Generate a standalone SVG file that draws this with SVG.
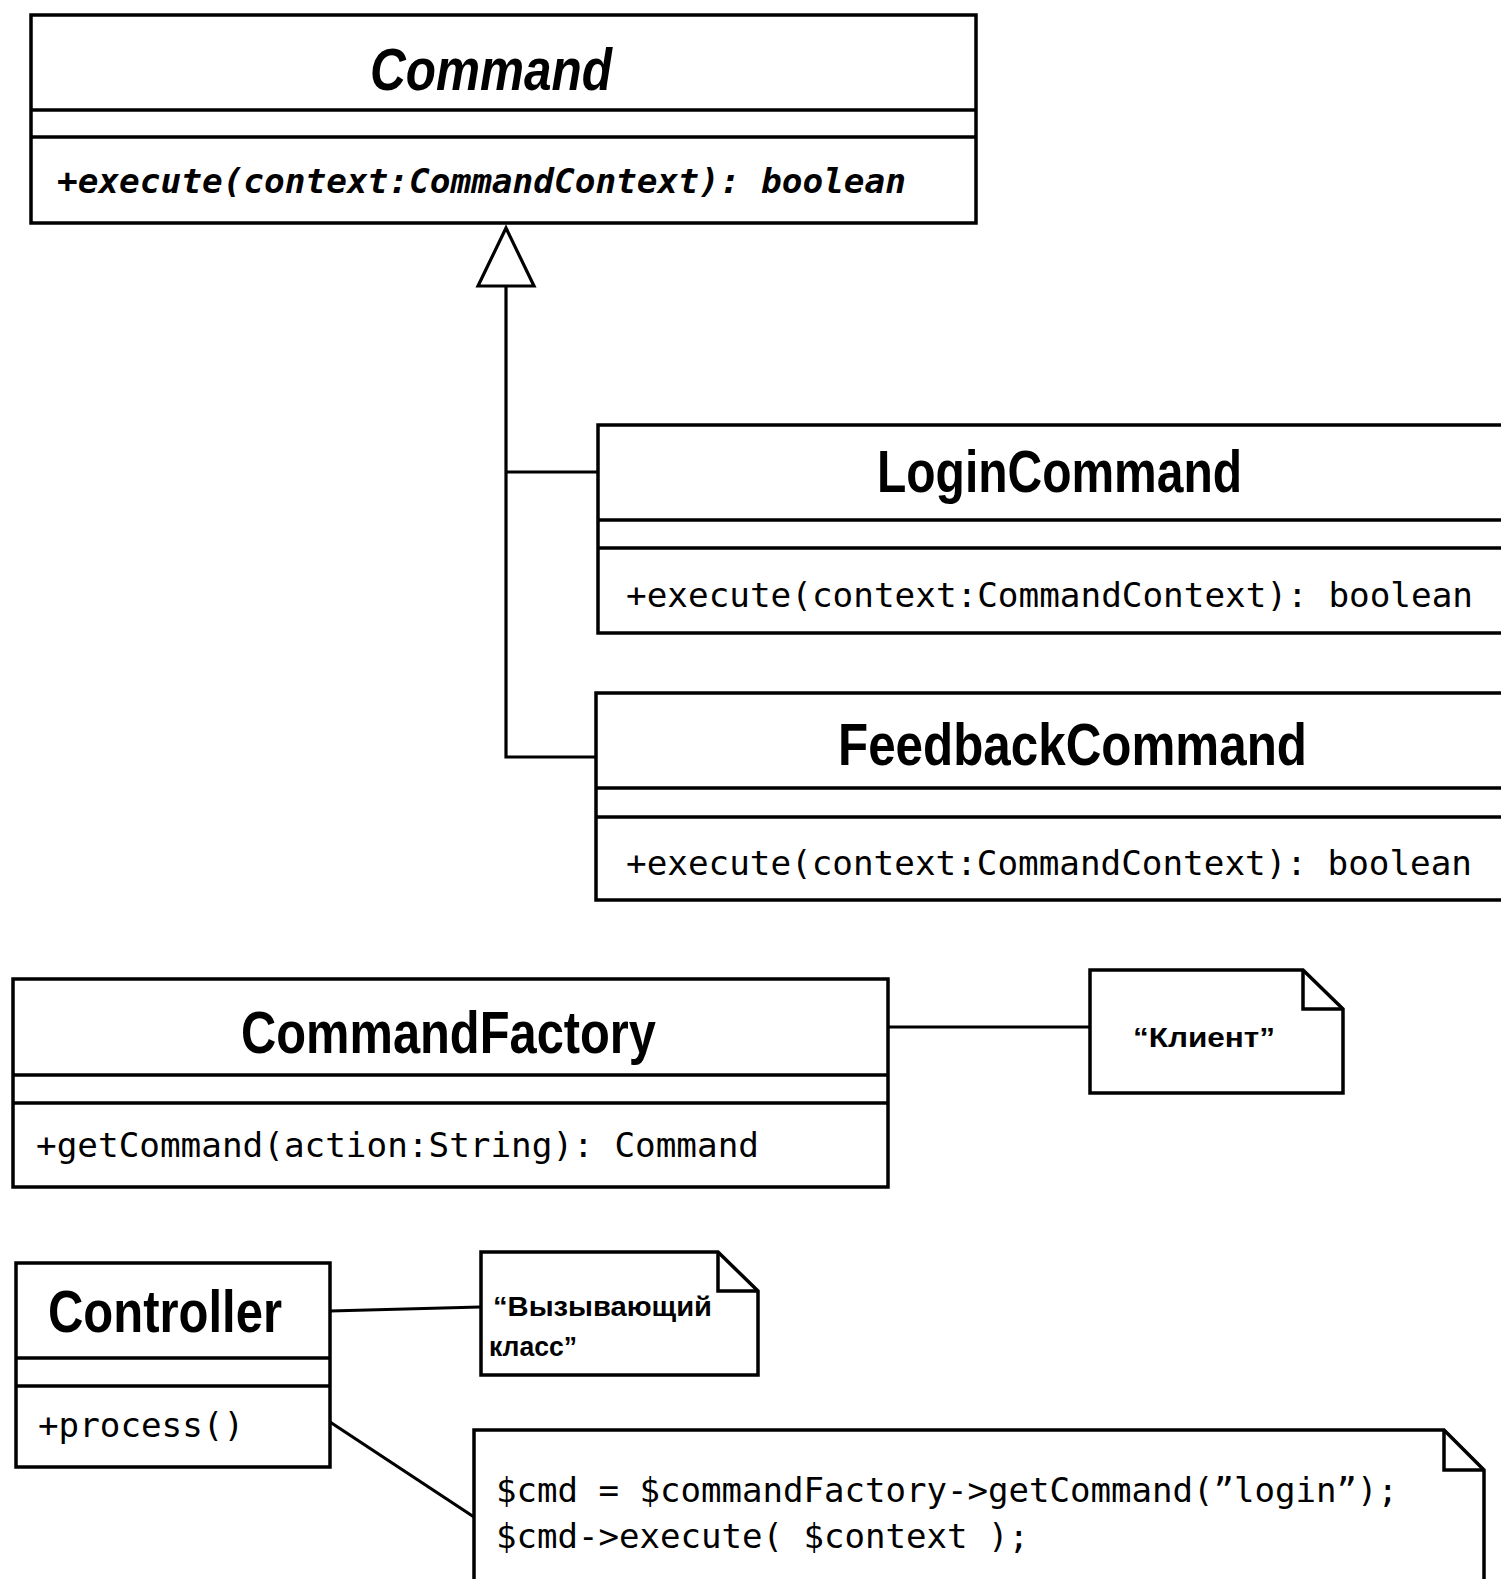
<svg xmlns="http://www.w3.org/2000/svg" width="1501" height="1579" viewBox="0 0 1501 1579">
<style>
.box{fill:#fff;stroke:#000;stroke-width:3.5}
.sep{stroke:#000;stroke-width:3.5;fill:none}
.conn{stroke:#000;stroke-width:3.2;fill:none}
.title{font-family:"Liberation Sans",Arial,sans-serif;font-weight:bold;font-size:60px;fill:#000}
.method{font-family:"DejaVu Sans Mono","Liberation Mono",monospace;font-size:34px;fill:#000}
.note{font-family:"Liberation Sans",Arial,sans-serif;font-weight:bold;font-size:27px;fill:#000}
</style>
<rect width="1501" height="1579" fill="#fff"/>
<g id="connectors">
<polyline class="conn" points="506,286 506,757 596,757"/>
<line class="conn" x1="506" y1="472" x2="597" y2="472"/>
<polygon points="506,228 478,286 534,286" fill="#fff" stroke="#000" stroke-width="3.2"/>
<line class="conn" x1="888" y1="1027" x2="1089" y2="1027"/>
<line class="conn" x1="330" y1="1311" x2="480" y2="1307"/>
<line class="conn" x1="330" y1="1422" x2="474" y2="1517"/>
</g>
<g id="Command">
<rect class="box" x="31" y="15" width="945" height="208"/>
<line class="sep" x1="31" y1="110" x2="976" y2="110"/>
<line class="sep" x1="31" y1="137" x2="976" y2="137"/>
<text class="title" font-style="italic" x="370" y="90" textLength="242" lengthAdjust="spacingAndGlyphs">Command</text>
<text class="method" font-weight="bold" font-style="italic" x="57" y="193" textLength="849" lengthAdjust="spacingAndGlyphs">+execute(context:CommandContext): boolean</text>
</g>
<g id="LoginCommand">
<rect class="box" x="598" y="425" width="920" height="208"/>
<line class="sep" x1="598" y1="520" x2="1518" y2="520"/>
<line class="sep" x1="598" y1="548" x2="1518" y2="548"/>
<text class="title" x="877" y="492" textLength="365" lengthAdjust="spacingAndGlyphs">LoginCommand</text>
<text class="method" x="626" y="607" textLength="847" lengthAdjust="spacingAndGlyphs">+execute(context:CommandContext): boolean</text>
</g>
<g id="FeedbackCommand">
<rect class="box" x="596" y="693" width="920" height="207"/>
<line class="sep" x1="596" y1="788" x2="1516" y2="788"/>
<line class="sep" x1="596" y1="817" x2="1516" y2="817"/>
<text class="title" x="838" y="765" textLength="469" lengthAdjust="spacingAndGlyphs">FeedbackCommand</text>
<text class="method" x="626" y="875" textLength="846" lengthAdjust="spacingAndGlyphs">+execute(context:CommandContext): boolean</text>
</g>
<g id="CommandFactory">
<rect class="box" x="13" y="979" width="875" height="208"/>
<line class="sep" x1="13" y1="1075" x2="888" y2="1075"/>
<line class="sep" x1="13" y1="1103" x2="888" y2="1103"/>
<text class="title" x="241" y="1053" textLength="415" lengthAdjust="spacingAndGlyphs">CommandFactory</text>
<text class="method" x="36" y="1157" textLength="723" lengthAdjust="spacingAndGlyphs">+getCommand(action:String): Command</text>
</g>
<g id="NoteClient">
<path class="box" d="M1090,970 H1303 L1343,1009 V1093 H1090 Z"/>
<path class="sep" d="M1303,970 V1009 H1343"/>
<text class="note" font-size="28" x="1133" y="1047" textLength="142" lengthAdjust="spacingAndGlyphs">“Клиент”</text>
</g>
<g id="Controller">
<rect class="box" x="16" y="1263" width="314" height="204"/>
<line class="sep" x1="16" y1="1358" x2="330" y2="1358"/>
<line class="sep" x1="16" y1="1386" x2="330" y2="1386"/>
<text class="title" x="48" y="1332" textLength="234" lengthAdjust="spacingAndGlyphs">Controller</text>
<text class="method" x="38" y="1437" textLength="206" lengthAdjust="spacingAndGlyphs">+process()</text>
</g>
<g id="NoteInvoker">
<path class="box" d="M481,1252 H718 L758,1291 V1375 H481 Z"/>
<path class="sep" d="M718,1252 V1291 H758"/>
<text class="note" x="493" y="1316" textLength="219" lengthAdjust="spacingAndGlyphs">“Вызывающий</text>
<text class="note" x="489" y="1356" textLength="88" lengthAdjust="spacingAndGlyphs">класс”</text>
</g>
<g id="NoteCode">
<path class="box" d="M474,1430 H1444 L1484,1470 V1600 H474 Z"/>
<path class="sep" d="M1444,1430 V1470 H1484"/>
<text class="method" x="496" y="1502" textLength="902" lengthAdjust="spacingAndGlyphs">$cmd = $commandFactory-&gt;getCommand(”login”);</text>
<text class="method" x="496" y="1548" textLength="533" lengthAdjust="spacingAndGlyphs">$cmd-&gt;execute( $context );</text>
</g>
</svg>
